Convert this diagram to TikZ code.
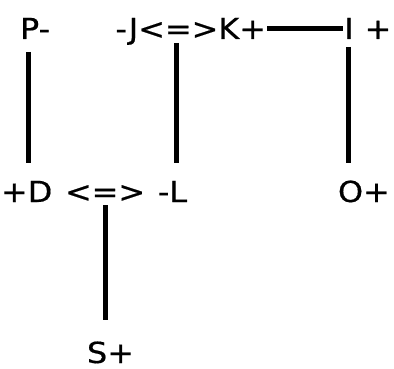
\documentclass[tikz,border=0pt]{standalone}
\usepackage{fontspec}
\setmainfont{DejaVu Sans}[FakeStretch=1.1, WordSpace=1.25, FakeBold=0.6]
\usetikzlibrary{calc}
\tikzset{
  lbl/.style={inner sep=0pt, outer sep=0pt, anchor=base west, font=\fontsize{29pt}{35pt}\selectfont},
  conn/.style={line width=5pt, black},
}
\begin{document}
\begin{tikzpicture}[x=1pt,y=1pt]
\useasboundingbox (0,0) rectangle (394,-369);
% top row
\node[lbl] (P) at (20,-39) {P-};
\node[lbl] (JK) at (115.5,-39) {-J<=>K+};
\node[lbl, anchor=base] (I) at (349,-39) {I};
\node[lbl, anchor=base] (Ip) at (378,-39) {+};
% bottom row
\node[lbl] (D) at (1,-202) {+D <=> -L};
\node[lbl] (O) at (338,-202) {O+};
\node[lbl] (S) at (87,-363) {S+};
% connectors
\draw[conn] ($(P.base west)+(8,-13)$) -- ($(D.base west)+(27,39)$);
\draw[conn] ($(JK.base west)+(60.5,-4)$) -- ($(D.base west)+(175,39)$);
\draw[conn] ($(JK.base west)+(151.5,10)$) -- ($(I.base)+(-6,10)$);
\draw[conn] ($(I.base)+(-1,-8)$) -- ($(O.base west)+(10,39)$);
\draw[conn] ($(D.base west)+(104,-3)$) -- ($(S.base west)+(18,43)$);
\end{tikzpicture}
\end{document}
